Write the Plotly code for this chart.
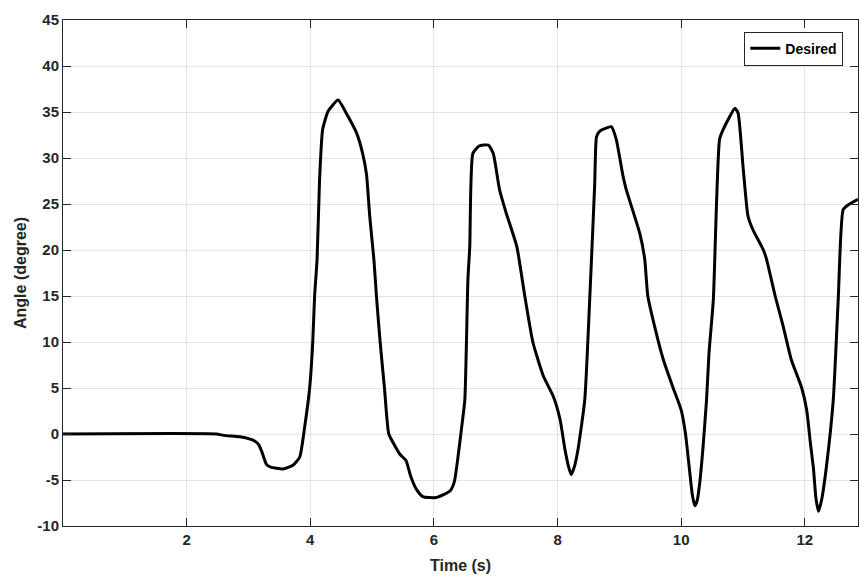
import plotly.graph_objects as go

time_s = [0, 2.48, 2.6, 2.86, 3.0, 3.1, 3.17, 3.22, 3.29, 3.36, 3.56, 3.72, 3.83, 3.91, 3.99, 4.04,
          4.07, 4.11, 4.15, 4.2, 4.29, 4.45, 4.58, 4.75, 4.85, 4.91, 4.96, 5.03, 5.07, 5.13, 5.2,
          5.27, 5.37, 5.45, 5.55, 5.62, 5.72, 5.82, 6.04, 6.26, 6.33, 6.38, 6.45, 6.5, 6.55, 6.58,
          6.63, 6.73, 6.88, 6.96, 7.06, 7.17, 7.34, 7.47, 7.6, 7.77, 7.93, 8.04, 8.12, 8.18, 8.22,
          8.27, 8.33, 8.44, 8.52, 8.6, 8.63, 8.68, 8.87, 8.95, 9.06, 9.11, 9.33, 9.41, 9.46, 9.57,
          9.71, 9.87, 10.0, 10.07, 10.12, 10.18, 10.22, 10.26, 10.3, 10.35, 10.41, 10.45, 10.52,
          10.62, 10.68, 10.87, 10.92, 11.0, 11.08, 11.16, 11.33, 11.38, 11.52, 11.65, 11.78, 11.95,
          12.03, 12.09, 12.14, 12.18, 12.22, 12.27, 12.35, 12.46, 12.54, 12.62, 12.7, 12.86]
angle_deg = [0, 0, -0.15, -0.3, -0.5, -0.75, -1.2, -2.0, -3.3, -3.6, -3.8, -3.4, -2.5, 0.8, 5.0, 10.0,
             15.0, 19.0, 27.6, 33.1, 35.1, 36.3, 34.9, 32.7, 30.4, 28.2, 23.8, 18.9, 15.0, 10.0, 5.0,
             0.0, -1.3, -2.2, -2.9, -4.5, -6.05, -6.8, -6.9, -6.2, -5.2, -3.0, 0.8, 3.7, 16.8, 20.4,
             30.5, 31.3, 31.4, 30.5, 26.6, 24.0, 20.4, 15.0, 10.0, 6.3, 4.1, 1.6, -1.7, -3.6, -4.4,
             -3.6, -1.7, 3.7, 14.6, 27.0, 32.3, 32.9, 33.4, 32.0, 28.0, 26.6, 21.8, 19.0, 15.0, 11.7,
             8.1, 5.0, 2.6, 0.0, -3.0, -6.6, -7.8, -7.2, -5.3, -1.7, 3.7, 8.8, 14.6,
             32.0, 33.1, 35.4, 34.9, 29.1, 23.7, 22.2, 20.0, 19.0, 15.0, 11.7, 8.1, 5.0,
             2.6, -1.0, -3.8, -7.0, -8.4, -7.2, -3.5, 3.7, 14.6, 24.4, 24.9, 25.5]

x_ticks = [2, 4, 6, 8, 10, 12]
y_ticks = list(range(-10, 50, 5))

font_family = "Liberation Sans, Arial, sans-serif"

fig = go.Figure()
fig.add_trace(go.Scatter(
    x=time_s, y=angle_deg, mode="lines", name="<b>Desired</b>",
    line=dict(color="black", width=3, shape="spline", smoothing=0.5),
))

axis_common = dict(
    showline=True, linecolor="#262626", linewidth=1, mirror="ticks",
    ticks="inside", ticklen=8, tickcolor="#262626", tickwidth=1,
    showgrid=True, gridcolor="#e3e3e3", gridwidth=1, zeroline=False,
    tickfont=dict(family=font_family, size=15, color="#262626"),
    automargin=False,
)

fig.update_layout(
    width=859, height=580,
    margin=dict(l=63, r=1, t=20, b=54),
    paper_bgcolor="white", plot_bgcolor="white",
    font=dict(family=font_family, color="#262626"),
    showlegend=True,
    legend=dict(
        x=0.857, y=0.977, xanchor="left", yanchor="top",
        bgcolor="white", bordercolor="#262626", borderwidth=1,
        font=dict(family=font_family, size=14, color="black"),
        itemwidth=30, tracegroupgap=0, entrywidth=72,
    ),
)
fig.update_xaxes(
    range=[0, 12.86], tickvals=x_ticks, ticktext=[f"<b>{v}</b>" for v in x_ticks],
    title=dict(text="<b>Time (s)</b>", font=dict(family=font_family, size=16, color="#262626"), standoff=12),
    **axis_common,
)
fig.update_yaxes(
    range=[-10, 45], tickvals=y_ticks, ticktext=[f"<b>{v}</b>" for v in y_ticks],
    title=dict(text="<b>Angle (degree)</b>", font=dict(family=font_family, size=16, color="#262626"), standoff=6),
    **axis_common,
)

fig.write_html(
    "out.html",
    config={"displayModeBar": False},
    post_script="document.body.style.margin='0';document.body.style.padding='0';"
                "document.body.style.overflow='hidden';",
)
